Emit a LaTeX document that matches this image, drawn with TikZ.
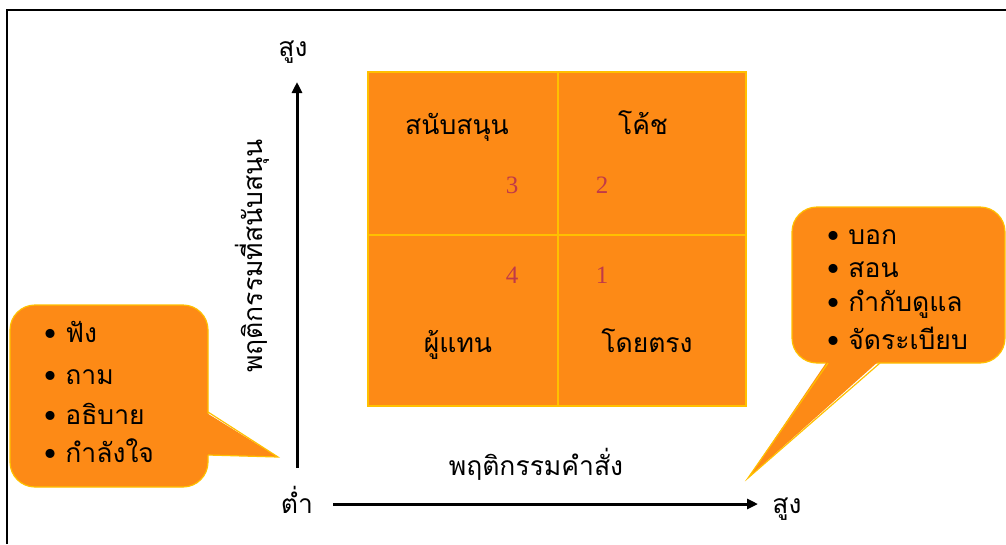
\documentclass[tikz,border=0pt]{standalone}
\usepackage{fontspec}
\setmainfont[Script=Thai]{Loma}
\newfontfamily\numfont{Liberation Serif}
\usetikzlibrary{arrows.meta}
\definecolor{orng}{RGB}{253,138,22}
\definecolor{gold}{RGB}{255,192,0}
\definecolor{numred}{RGB}{192,58,72}
\tikzset{
  thai/.style={font=\fontsize{26.5}{30}\selectfont, inner sep=0pt, text height=18pt, text depth=6pt, yshift=-3pt},
  num/.style={font=\numfont\fontsize{25}{28}\selectfont, text=numred, inner sep=0pt},
  bul/.style={thai, anchor=west},
  axis/.style={line width=3pt, -{Triangle[length=11pt,width=10pt]}},
  callout/.style={fill=orng, draw=gold, line width=1.2pt},
}
\begin{document}
\begin{tikzpicture}[x=1pt,y=-1pt]
\useasboundingbox (0,0) rectangle (1006,544);
% frame
\draw[line width=2pt] (7,544) -- (7,10) -- (1006,10);
% quadrant
\draw[fill=orng, draw=gold, line width=1.2pt] (368,72) rectangle (746,406);
\draw[gold, line width=1.2pt] (558,72) -- (558,406);
\draw[gold, line width=1.2pt] (368,235) -- (746,235);
\node[thai] (q3t) at (457,125) {สนับสนุน};
\node[thai] (q2t) at (643,125) {โค้ช};
\node[thai] (q4t) at (458,343) {ผู้แทน};
\node[thai] (q1t) at (647,343) {โดยตรง};
\node[num] (n3) at (512,185) {3};
\node[num] (n2) at (602,185) {2};
\node[num] (n4) at (512,275) {4};
\node[num] (n1) at (602,275) {1};
% axes
\node[thai] (vhigh) at (293,47) {สูง};
\node[thai] (low) at (297,504) {ต่ำ};
\node[thai] (hhigh) at (787,504) {สูง};
\node[thai, yshift=3pt, rotate=90] (vlab) at (256,256) {พฤติกรรมที่สนับสนุน};
\node[thai] (hlab) at (536,466) {พฤติกรรมคำสั่ง};
\coordinate (vbot) at (297,468);
\coordinate (vtop) at (297,82);
\coordinate (hleft) at (333,504);
\coordinate (hright) at (758,504);
\draw[axis] (vbot) -- (vtop);
\draw[axis] (hleft) -- (hright);
% left callout
\draw[callout, rounded corners=25pt] (10,305) rectangle (208,487);
\fill[orng] (205,412) -- (278,457) -- (205,455) -- cycle;
\draw[gold, line width=1.2pt] (208,412) -- (278,457) -- (208,455);
\node[bul] (l1) at (44,333) {\textbullet\ ฟัง};
\node[bul] (l2) at (44,375) {\textbullet\ ถาม};
\node[bul] (l3) at (44,415) {\textbullet\ อธิบาย};
\node[bul] (l4) at (44,453) {\textbullet\ กำลังใจ};
% right callout
\draw[callout, rounded corners=25pt] (792,207) rectangle (1005,363);
\fill[orng] (828,360) -- (748,478) -- (880,360) -- cycle;
\draw[gold, line width=1.2pt] (828,363) -- (748,478) -- (880,363);
\node[bul] (r1) at (827,235) {\textbullet\ บอก};
\node[bul] (r2) at (827,268) {\textbullet\ สอน};
\node[bul] (r3) at (827,302) {\textbullet\ กำกับดูแล};
\node[bul] (r4) at (827,340) {\textbullet\ จัดระเบียบ};
\end{tikzpicture}
\end{document}
